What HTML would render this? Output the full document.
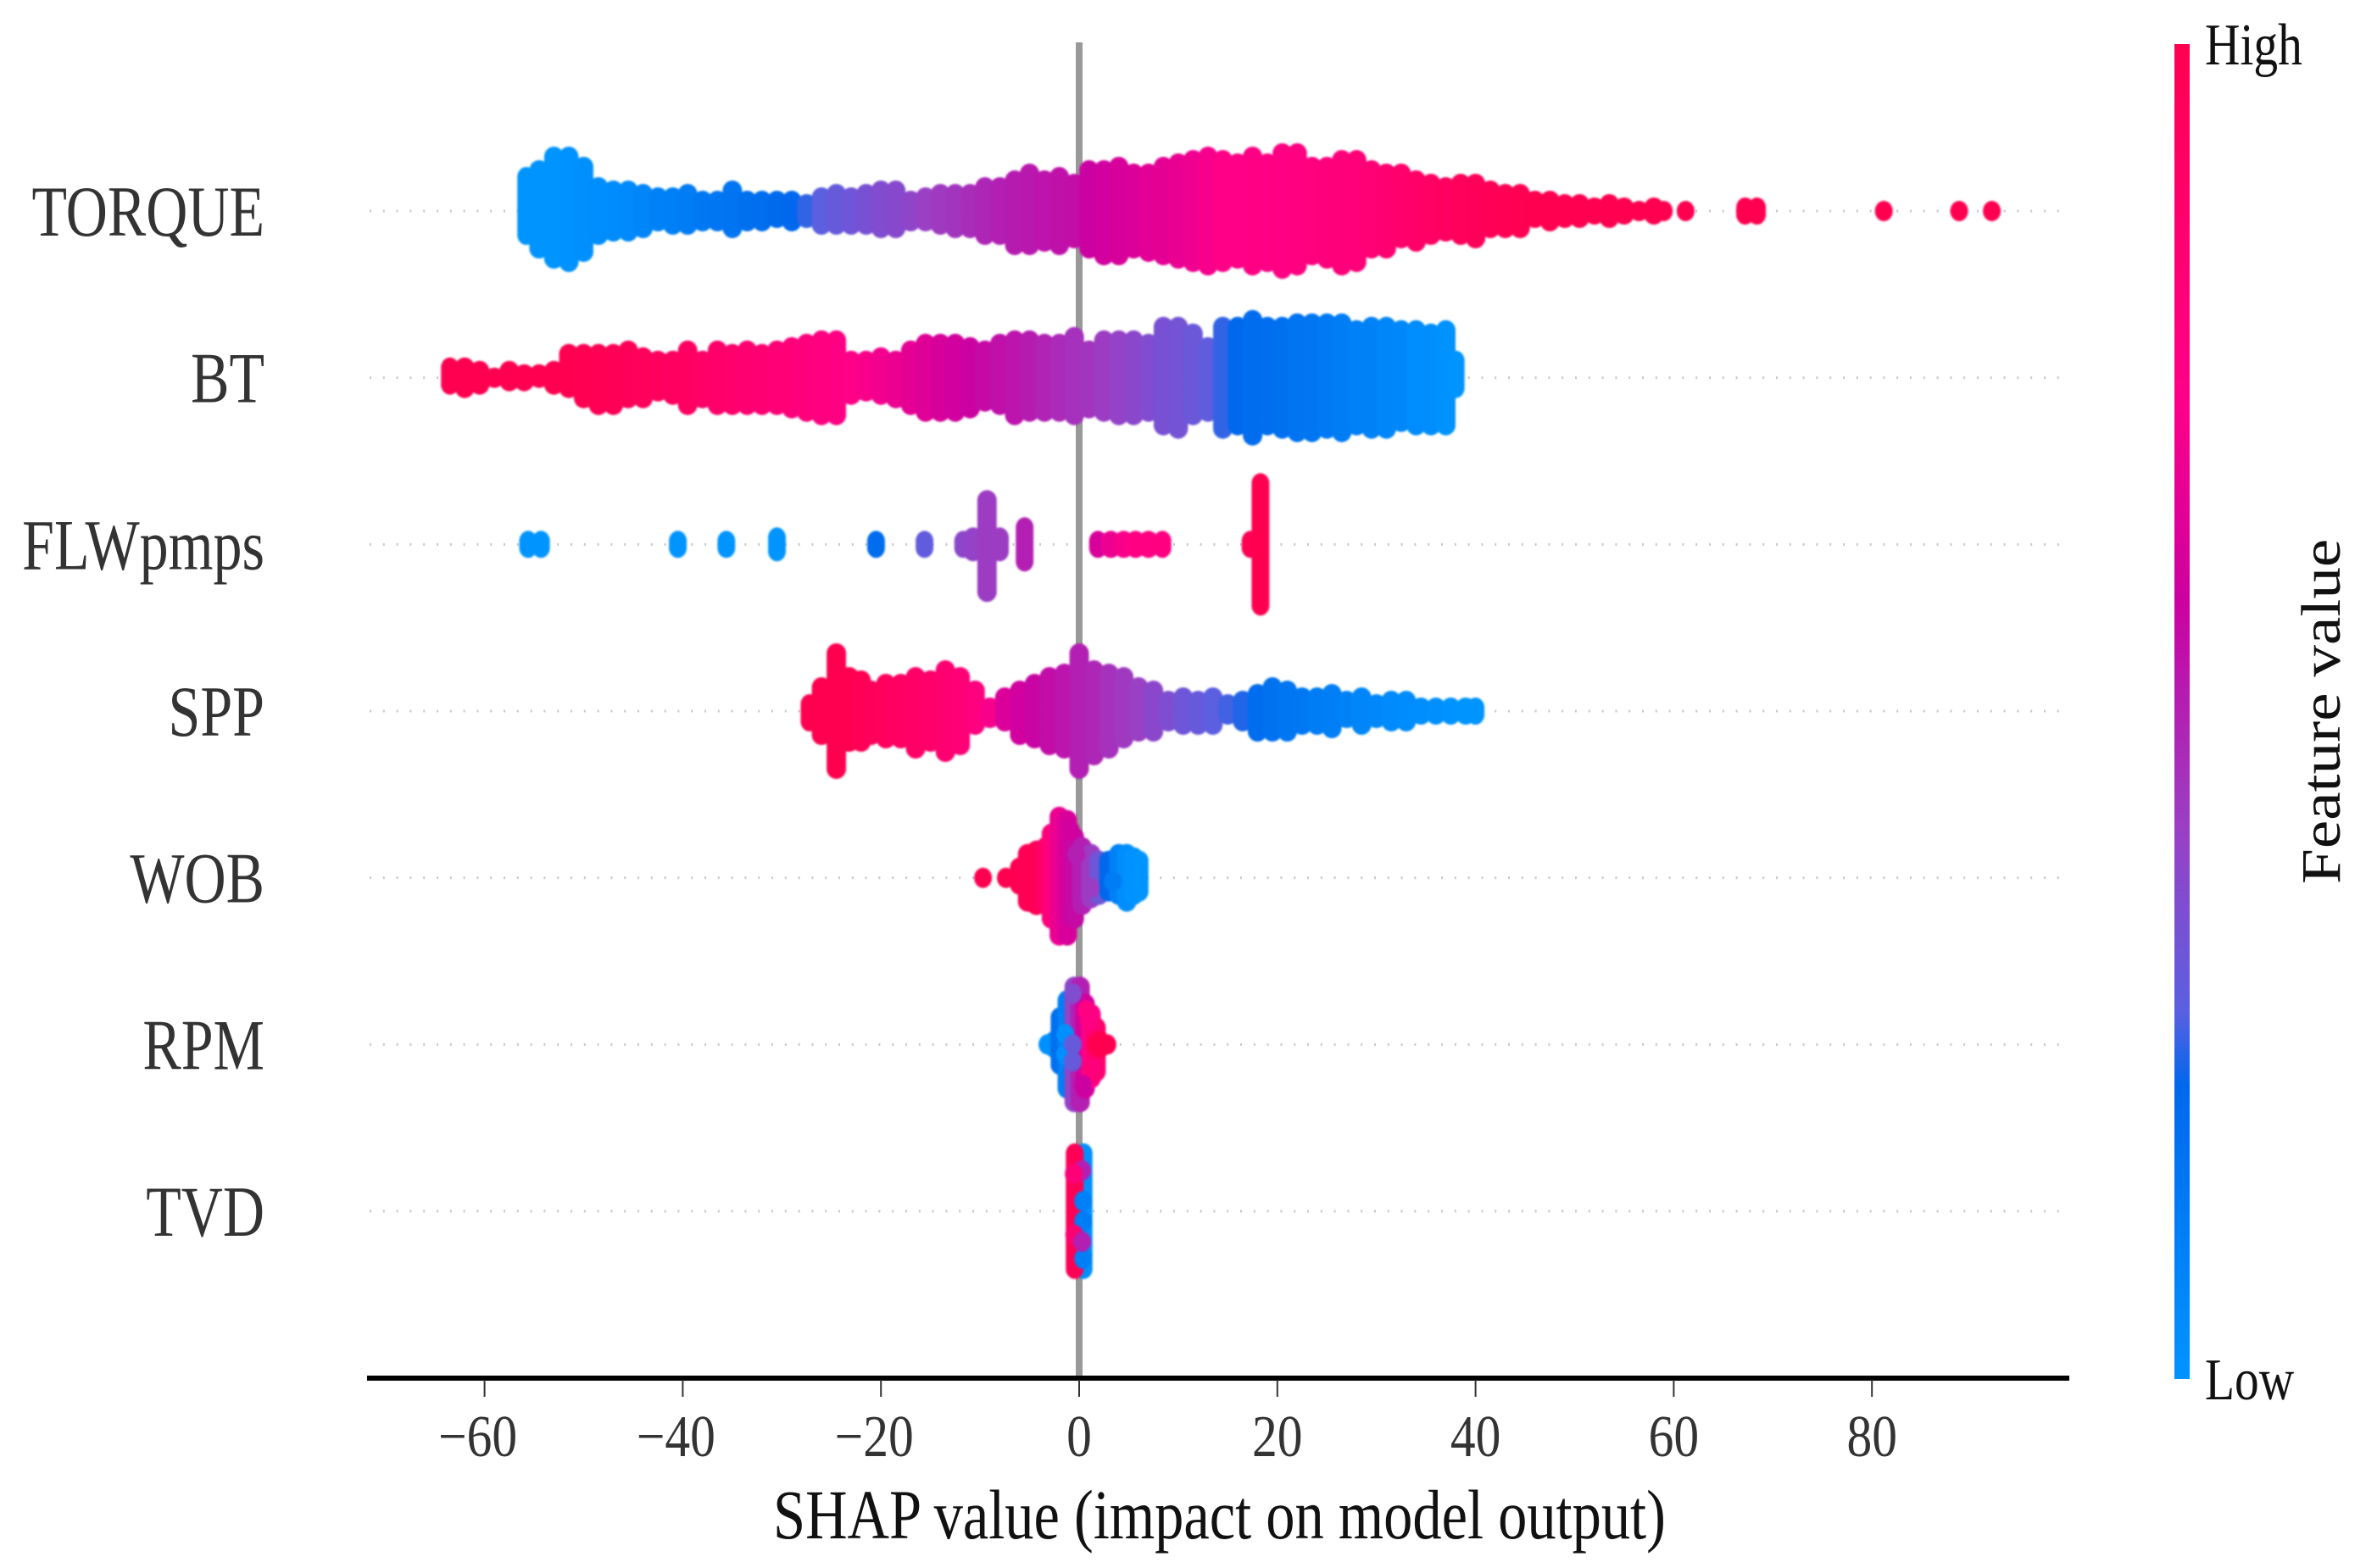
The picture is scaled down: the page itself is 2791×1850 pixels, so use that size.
<!DOCTYPE html>
<html lang="en">
<head>
<meta charset="utf-8">
<title>SHAP summary plot</title>
<style>
html,body{margin:0;padding:0;background:#fff;}
svg{display:block;font-family:"Liberation Serif","Times New Roman",serif;}
</style>
</head>
<body>
<svg id="chart" xmlns="http://www.w3.org/2000/svg" width="2791" height="1850" viewBox="0 0 2791 1850">
  <defs>
    <linearGradient id="cbar" x1="0" y1="1" x2="0" y2="0"></linearGradient>
    <filter id="soft" filterUnits="userSpaceOnUse" x="400" y="100" width="2100" height="1500" color-interpolation-filters="sRGB">
      <feGaussianBlur stdDeviation="1"/>
    </filter>
  </defs>
  <rect x="0" y="0" width="2791" height="1850" fill="#ffffff"/>
  <g id="rows"></g>
  <g id="zero"></g>
  <g id="swarm" filter="url(#soft)"></g>
  <g id="axis"></g>
  <g id="ylabels"></g>
  <text transform="translate(912,1815) scale(0.825,1)" font-size="83" fill="#111">SHAP value (impact on model output)</text>
  <rect x="2565" y="52" width="18" height="1575" fill="url(#cbar)"/>
  <text transform="translate(2601,76) scale(0.82,1)" font-size="70" fill="#111">High</text>
  <text transform="translate(2601,1651) scale(0.82,1)" font-size="70" fill="#111">Low</text>
  <text transform="translate(2760,1043) rotate(-90) scale(1.14,1)" font-size="66" fill="#111">Feature value</text>
</svg>
<script>
const features = ["TORQUE","BT","FLWpmps","SPP","WOB","RPM","TVD"];
const tickValues = [-60,-40,-20,0,20,40,60,80];
const tickLabels = ["\u221260","\u221240","\u221220","0","20","40","60","80"];

const colorPositions = [0,0.22,0.275,0.413,0.585,0.737,1];
const colorStops = ["#0094ff","#0068ec","#5a60e0","#9a3fc4","#cc00a0","#ff0088","#ff0051"];

const torqueShap = [
-55.8,-54.5,-53,-51.5,-50,-48.5,-47,-45.5,-44,-42.5,
-41,-39.5,-38,-36.5,-35,-33.5,-32,-30.5,-29,-27.5,
-26,-24.5,-23,-21.5,-20,-18.5,-17,-15.5,-14,-12.5,
-11,-9.5,-8,-6.5,-5,-3.5,-2,-0.5,1,2.5,
4,5.5,7,8.5,10,11.5,13,14.5,16,17.5,
19,20.5,22,23.5,25,26.5,28,29.5,31,32.5,
34,35.5,37,38.5,40,41.5,43,44.5,46,47.5,
49,50.5,52,53.5,55,56.5,58,59,61.2,67.2,
68.4,81.2,88.8,92.1];
const torqueUp = [
10,12,16,16,13,7,6,6,5,4,
4,5,3,3,6,3,3,3,3,2,
4,5,4,5,6,6,3,4,5,5,
5,7,7,9,11,9,10,8,12,12,
13,11,11,13,14,15,16,15,14,16,
14,17,17,13,13,15,15,12,11,11,
9,8,7,8,8,6,5,5,3,3,
2,2,1,2,1,0,1,0,0,1,
1,0,0,0];
const torqueDown = [
7,11,14,15,12,7,6,6,5,3,
4,4,3,3,5,3,3,2,3,2,
4,4,4,4,5,5,3,3,4,5,
5,7,7,10,10,9,10,8,11,13,
13,11,12,13,14,15,16,15,14,16,
15,17,16,13,14,16,15,11,11,8,
9,7,6,7,8,5,5,5,2,3,
2,2,1,2,1,0,1,0,0,1,
1,0,0,0];
const torqueValue = [
0,0,0,.01,.02,.03,.04,.05,.07,.09,
.1,.12,.14,.15,.16,.18,.19,.21,.22,.25,
.28,.3,.32,.34,.36,.37,.39,.41,.43,.44,
.46,.48,.5,.51,.52,.53,.54,.55,.58,.6,
.62,.63,.65,.66,.67,.69,.71,.74,.74,.75,
.75,.76,.77,.78,.79,.8,.81,.83,.85,.87,
.89,.91,.93,.95,.96,.97,.98,.99,1,1,
1,1,1,1,1,1,1,1,1,1,
1,1,1,1];

const btShap = [
-63.5,-62,-60.5,-59,-57.5,-56,-54.5,-53,-51.5,-50,
-48.5,-47,-45.5,-44,-42.5,-41,-39.5,-38,-36.5,-35,
-33.5,-32,-30.5,-29,-27.5,-26,-24.5,-23,-21.5,-20,
-18.5,-17,-15.5,-14,-12.5,-11,-9.5,-8,-6.5,-5,
-3.5,-2,-0.5,1,2.5,4,5.5,7,8.5,10,
11.5,13,14.5,16,17.5,19,20.5,22,23.5,25,
26.5,28,29.5,31,32.5,34,35.5,37,38];
const btUp = [
3,3,2,0,2,1,1,2,7,7,
7,7,8,6,5,5,8,5,8,7,
8,7,8,9,10,11,11,5,5,6,
5,8,10,10,10,9,8,10,11,11,
10,10,12,8,11,11,11,10,15,15,
13,9,15,15,17,15,15,16,16,16,
16,14,15,15,14,14,13,14,5];
const btDown = [
2,3,2,0,1,1,0,2,3,6,
8,8,6,6,4,5,8,6,8,8,
8,8,8,9,10,11,11,5,4,5,
6,8,10,10,10,9,7,8,11,10,
10,10,11,9,10,11,11,10,14,15,
11,10,15,14,17,14,15,16,16,15,
16,14,15,15,13,14,14,14,3];
const btValue = [
1,1,1,1,1,1,1,1,1,.99,
.98,.97,.96,.95,.94,.93,.92,.9,.88,.87,
.85,.84,.82,.81,.79,.77,.76,.74,.72,.7,
.68,.66,.64,.62,.6,.58,.56,.54,.53,.51,
.49,.47,.45,.44,.42,.4,.38,.36,.34,.33,
.31,.29,.25,.22,.2,.19,.18,.16,.15,.13,
.12,.1,.09,.07,.06,.04,.03,.01,0];

const flowShap = [-55.6,-54.3,-40.5,-35.6,-30.5,-20.5,-15.6,-11.7,-10.7,-9.3,-8,-5.5,1.9,3.2,4.5,5.7,7,8.4,17.3,18.3];
const flowUp = [1,1,1,1,2,1,1,1,2,13,2,5,1,1,1,1,1,1,1,18];
const flowDown = [1,1,1,1,2,1,1,1,2,14,2,5,1,1,1,1,1,1,1,18];
const flowValue = [0,0,0,0,0,.2,.29,.38,.4,.42,.42,.5,.62,.68,.72,.75,.76,.77,.99,1];

const sppShap = [
-27.2,-26,-24.5,-23.2,-22,-21,-19.5,-18,-16.5,-15,-13.5,
-12,-10.5,-9,-7.5,-6,-4.5,-3,-1.5,0,1.5,
3,4.5,6,7.5,9,10.5,12,13.5,15,16.5,
18,19.5,21,22.5,24,25.5,27,28.5,30,31.5,
33,34.5,36,37.5,39,40];
const sppUp = [
2,7,17,10,9,6,8,8,10,9,12,
10,6,1,4,6,8,10,11,17,12,
11,10,7,6,3,4,3,4,2,3,
5,7,6,4,4,5,3,4,2,3,
3,1,1,1,1,1];
const sppDown = [
3,7,17,9,9,7,8,8,11,9,12,
10,4,2,3,7,8,10,11,17,13,
11,8,6,6,3,4,4,4,1,3,
6,6,6,4,4,5,2,4,2,3,
3,1,1,1,1,1];
const sppValue = [
1,1,1,1,.98,.96,.94,.92,.9,.88,.85,
.82,.78,.72,.63,.6,.57,.55,.53,.5,.48,
.45,.43,.41,.38,.35,.32,.3,.28,.26,.24,
.2,.17,.15,.14,.12,.11,.09,.07,.06,.05,
.04,.03,.02,.01,0,0];

const wobShap = [-9.7,-7.4,-6.5,-6,-5.2,-4.3,-3.4,-2.8,-2,-1.2,-0.5,0.3,1.2,2,3,4,4.8,5.5,6.1];
const wobUp = [0,0,0,3,7,8,9,13,18,17,12,9,7,5,5,7,7,6,5];
const wobDown = [0,0,0,2,7,8,7,12,17,17,12,8,6,5,4,5,7,5,4];
const wobValue = [1,1,1,1,.98,.97,.9,.8,.68,.62,.56,.5,.42,.32,.22,.1,.03,.01,0];
const wobLooseShap = [1.16,-0.27,-0.85,3.4];
const wobLooseLayer = [3,-7,-14,1];
const wobLooseValue = [.42,.5,.6,.12];

const rpmShap = [-3.2,-2.5,-1.9,-1.2,-0.5,0.1,0.6,1.2,1.7,2.1,2.85];
const rpmUp = [0,1,8,13,17,17,12,9,5,1,0];
const rpmDown = [0,1,6,13,17,17,13,10,8,1,0];
const rpmValue = [.02,.02,.18,.1,.4,.5,.6,.74,.85,1,1];
const rpmLooseShap = [-1.4,-1.4,-0.63,-0.63,-0.63,0.73,1.0,1.6,2.0,1.2,0.4];
const rpmLooseLayer = [-3,3,-15,0,5,-10,-7,0,0,7,12];
const rpmLooseValue = [.02,.02,.36,.3,.3,.76,.76,.98,1,.8,.58];

const tvdShap = [0.45,-0.45];
const tvdUp = [17,17];
const tvdDown = [17,17];
const tvdValue = [.02,.98];
const tvdLooseShap = [.4,.4,.4,.3,-.55,-.5,.3];
const tvdLooseLayer = [-3,3,14,-12,-11,7,9];
const tvdLooseValue = [.1,.12,.1,.5,.82,.85,.5];

const NS = "http://www.w3.org/2000/svg";
const plotZeroX = 1273, pxPerUnit = 11.69, firstRowY = 249, rowGap = 196.67, layerPx = 4;
const xScale = v => plotZeroX + v * pxPerUnit;
const rowY = i => firstRowY + i * rowGap;

function hexToRgb(h){return [parseInt(h.slice(1,3),16),parseInt(h.slice(3,5),16),parseInt(h.slice(5,7),16)];}
function colorFor(t){
  t = Math.max(0, Math.min(1, t));
  for (let i = 1; i < colorPositions.length; i++) {
    if (t <= colorPositions[i]) {
      const f = (t - colorPositions[i-1]) / (colorPositions[i] - colorPositions[i-1]);
      const a = hexToRgb(colorStops[i-1]), b = hexToRgb(colorStops[i]);
      return "rgb(" + a.map((c,k) => Math.round(c + (b[k]-c)*f)).join(",") + ")";
    }
  }
  return colorStops[colorStops.length-1];
}
function make(tag, attrs, parent){
  const el = document.createElementNS(NS, tag);
  for (const k in attrs) el.setAttribute(k, attrs[k]);
  parent.appendChild(el);
  return el;
}

const grad = document.getElementById("cbar");
colorPositions.forEach((p,i) => {
  const s = make("stop", {offset: p, "stop-color": colorStops[i]}, grad);
  
  
});

const rowsG = document.getElementById("rows");
features.forEach((f,i) => {
  const l = make("line", {x1: 436, x2: 2432, y1: rowY(i), y2: rowY(i), stroke: "#c9c9c9", "stroke-width": 3, "stroke-dasharray": "2 13.8"}, rowsG);
  
  
});

const zeroG = document.getElementById("zero");
const zl = make("line", {x1: xScale(0), x2: xScale(0), y1: 50, y2: 1626, stroke: "#999999", "stroke-width": 8}, zeroG);



const swarm = document.getElementById("swarm");
function dot(parent, rowIdx, shap, layer, value, rx){
  const c = make("ellipse", {cx: xScale(shap).toFixed(1), cy: (rowY(rowIdx) + layer*layerPx).toFixed(1), rx: rx, ry: 12, fill: colorFor(value)}, parent);
  
  
}
function drawBins(rowIdx, shap, up, down, value){
  const g = make("g", {}, swarm);
  
  
  shap.forEach((v,i) => {
    const inner = i > 0 && i < shap.length - 1 && shap[i+1] - v < 1.6 && v - shap[i-1] < 1.6;
    const rx = inner ? 11.5 : 10.5;
    for (let k = -up[i]; k <= down[i]; k++) dot(g, rowIdx, v, k, value[i], rx);
  });
  return g;
}
function drawLoose(g, rowIdx, shap, layer, value){
  shap.forEach((v,i) => dot(g, rowIdx, v, layer[i], value[i], 10.5));
}
drawBins(0, torqueShap, torqueUp, torqueDown, torqueValue);
drawBins(1, btShap, btUp, btDown, btValue);
drawBins(2, flowShap, flowUp, flowDown, flowValue);
drawBins(3, sppShap, sppUp, sppDown, sppValue);
drawLoose(drawBins(4, wobShap, wobUp, wobDown, wobValue), 4, wobLooseShap, wobLooseLayer, wobLooseValue);
drawLoose(drawBins(5, rpmShap, rpmUp, rpmDown, rpmValue), 5, rpmLooseShap, rpmLooseLayer, rpmLooseValue);
drawLoose(drawBins(6, tvdShap, tvdUp, tvdDown, tvdValue), 6, tvdLooseShap, tvdLooseLayer, tvdLooseValue);

const axisG = document.getElementById("axis");
const axisLine = make("line", {x1: 433, x2: 2441, y1: 1626, y2: 1626, stroke: "#000", "stroke-width": 6}, axisG);


tickValues.forEach((v,i) => {
  const t = make("line", {x1: xScale(v), x2: xScale(v), y1: 1628, y2: 1648, stroke: "#333", "stroke-width": 2}, axisG);
  
  
  const shift = v < 0 ? -8 : 0;
  const lab = make("text", {transform: "translate(" + (xScale(v)+shift) + ",1718) scale(0.85,1)", "font-size": 70, "text-anchor": "middle", fill: "#333"}, axisG);
  
  
  lab.textContent = tickLabels[i];
});

const yG = document.getElementById("ylabels");
features.forEach((f,i) => {
  const lab = make("text", {transform: "translate(312," + (rowY(i)+29) + ") scale(0.8,1)", "font-size": 85, "text-anchor": "end", fill: "#333"}, yG);
  
  
  lab.textContent = f;
});
</script>
</body>
</html>
